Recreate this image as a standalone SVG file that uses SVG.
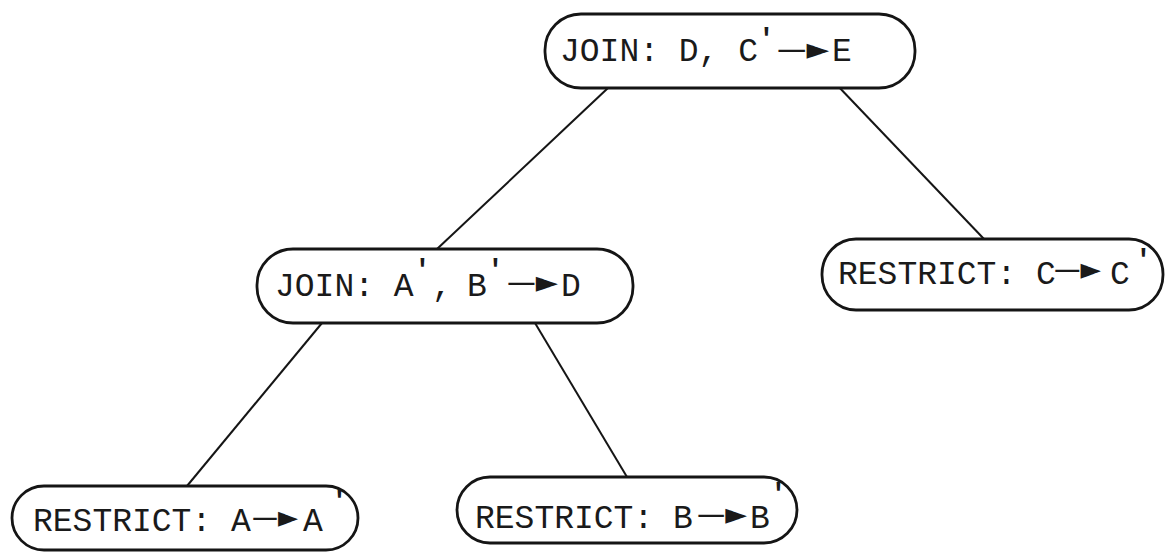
<svg xmlns="http://www.w3.org/2000/svg" width="1170" height="559" viewBox="0 0 1170 559">
<style>
.node{fill:#fff;stroke:#151515;stroke-width:2.8}
.edge{stroke:#151515;stroke-width:2;fill:none}
.lbl{font-family:"Liberation Mono","Courier New",monospace;font-size:33px;fill:#1a1a1a}
.arr{font-family:"DejaVu Sans",sans-serif;font-size:30px;fill:#1a1a1a}
.pr{font-size:28px;font-weight:bold}
</style>
<rect width="1170" height="559" fill="#fff"/>
<g id="connectors">
<line class="edge" x1="608" y1="88" x2="437" y2="249"/>
<line class="edge" x1="836" y1="84" x2="984" y2="239"/>
<line class="edge" x1="322" y1="323" x2="187" y2="486"/>
<line class="edge" x1="535" y1="323" x2="627" y2="477"/>
</g>
<g id="join-de">
<rect class="node" x="545" y="14" width="370" height="74" rx="36" ry="36"/>
<text class="lbl"><tspan x="560" y="61" xml:space="preserve">JOIN: D, C</tspan><tspan class="pr" x="758" y="47">'</tspan><tspan class="arr" x="777" y="59" textLength="52" lengthAdjust="spacingAndGlyphs">—►</tspan><tspan x="832" y="61">E</tspan></text>
</g>
<g id="join-abd">
<rect class="node" x="257" y="249" width="376" height="74" rx="36" ry="36"/>
<text class="lbl"><tspan x="275" y="296" xml:space="preserve">JOIN: A</tspan><tspan class="pr" x="414" y="278">'</tspan><tspan x="432" y="296">,</tspan><tspan x="467" y="296">B</tspan><tspan class="pr" x="487" y="278">'</tspan><tspan class="arr" x="507" y="292" textLength="51" lengthAdjust="spacingAndGlyphs">—►</tspan><tspan x="561" y="296">D</tspan></text>
</g>
<g id="restrict-c">
<rect class="node" x="822" y="239" width="341" height="71" rx="34" ry="35"/>
<text class="lbl"><tspan x="838" y="284" xml:space="preserve">RESTRICT: C</tspan><tspan class="arr" x="1054" y="279" textLength="47" lengthAdjust="spacingAndGlyphs">—►</tspan><tspan x="1110" y="284">C</tspan><tspan class="pr" x="1135" y="268">'</tspan></text>
</g>
<g id="restrict-a">
<rect class="node" x="12" y="486" width="346" height="64" rx="32" ry="32"/>
<text class="lbl"><tspan x="33" y="531" xml:space="preserve">RESTRICT: A</tspan><tspan class="arr" x="252" y="527" textLength="46" lengthAdjust="spacingAndGlyphs">—►</tspan><tspan x="303" y="531">A</tspan><tspan class="pr" x="331" y="509">'</tspan></text>
</g>
<g id="restrict-b">
<rect class="node" x="457" y="477" width="340" height="66" rx="33" ry="33"/>
<text class="lbl"><tspan x="475" y="528" xml:space="preserve">RESTRICT: B</tspan><tspan class="arr" x="697" y="524" textLength="50" lengthAdjust="spacingAndGlyphs">—►</tspan><tspan x="750" y="528">B</tspan><tspan class="pr" x="770" y="502">'</tspan></text>
</g>
</svg>
